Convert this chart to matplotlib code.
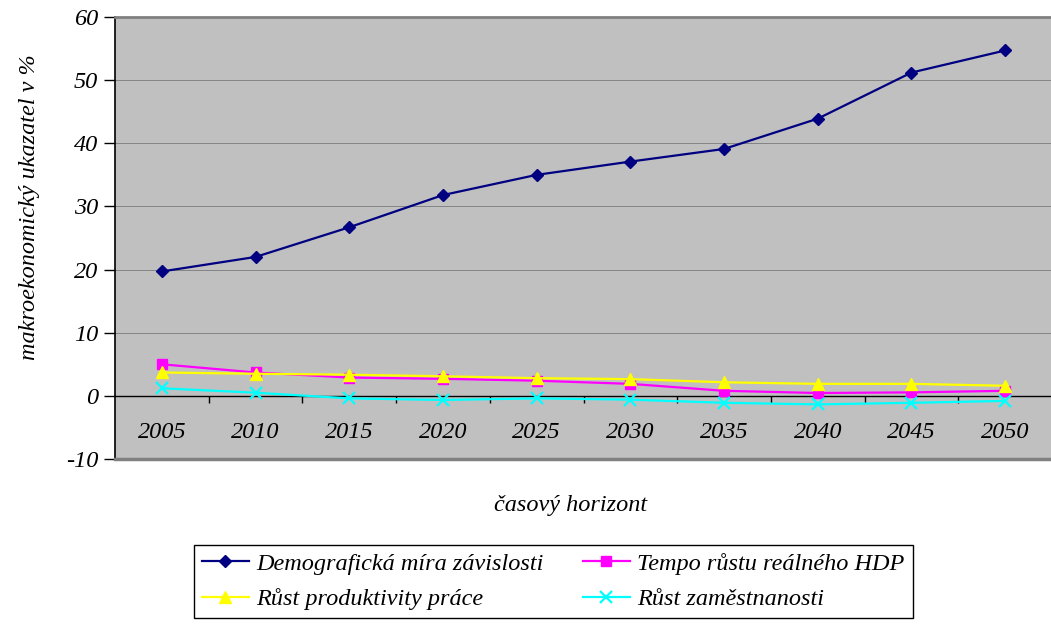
import matplotlib
matplotlib.use("Agg")
import matplotlib.pyplot as plt
from matplotlib.ticker import FixedLocator

years = ["2005", "2010", "2015", "2020", "2025", "2030", "2035", "2040", "2045", "2050"]
demo = [19.7, 22.0, 26.7, 31.8, 35.0, 37.1, 39.1, 43.9, 51.2, 54.7]
hdp = [5.0, 3.7, 2.9, 2.7, 2.4, 1.9, 0.8, 0.45, 0.55, 0.8]
prod = [3.7, 3.5, 3.35, 3.1, 2.8, 2.65, 2.15, 1.9, 1.9, 1.6]
zam = [1.2, 0.5, -0.4, -0.65, -0.4, -0.6, -1.1, -1.35, -1.1, -0.8]
yticks = [-10, 0, 10, 20, 30, 40, 50, 60]

labels = ["Demografická míra závislosti", "Tempo růstu reálného HDP",
          "Růst produktivity práce", "Růst zaměstnanosti"]

plt.rcParams['font.family'] = ['Liberation Serif', 'DejaVu Serif']
plt.rcParams['font.style'] = 'italic'
FS = 17.5

W, H = 1051, 626
fig = plt.figure(figsize=(W / 100, H / 100), dpi=100)
ax = fig.add_axes([115 / W, 1 - 459 / H, (1052 - 115) / W, (459 - 17) / H])
ax.set_facecolor('#C0C0C0')

x = list(range(len(years)))
l1, = ax.plot(x, demo, color='#000080', lw=1.6, marker='D', ms=6.5, zorder=5)
l2, = ax.plot(x, hdp, color='#FF00FF', lw=1.6, marker='s', ms=7, zorder=4)
l3, = ax.plot(x, prod, color='#FFFF00', lw=1.6, marker='^', ms=8.5, zorder=4)
l4, = ax.plot(x, zam, color='#00FFFF', lw=1.6, marker='x', ms=8, mew=1.6, zorder=4)

ax.set_xlim(-0.5, len(years) - 0.5)
ax.set_ylim(-10, 60)
ax.set_yticks(yticks)
ax.set_yticklabels([str(v) for v in yticks], fontsize=FS, style='italic')
ax.yaxis.grid(True, color='#7a7a7a', lw=0.6)
ax.set_axisbelow(True)

# category axis at zero
ax.spines['bottom'].set_position(('data', 0))
ax.spines['bottom'].set_color('black')
ax.spines['bottom'].set_linewidth(1.0)
ax.set_xticks(x)
ax.set_xticklabels(years, fontsize=FS, style='italic')
ax.tick_params(axis='x', which='major', length=0, pad=19)
ax.xaxis.set_minor_locator(FixedLocator([i + 0.5 for i in range(len(years) - 1)]))
ax.tick_params(axis='x', which='minor', length=5, direction='out', width=1)

ax.spines['left'].set_color('black')
ax.spines['left'].set_linewidth(1.2)
ax.tick_params(axis='y', length=8, width=1, pad=4)
ax.spines['top'].set_color('#808080')
ax.spines['top'].set_linewidth(2)
ax.spines['right'].set_visible(False)
ax.axhline(-10, color='#808080', lw=2.5, clip_on=False, zorder=6)

fig.text(30 / W, 1 - 207 / H, "makroekonomický ukazatel v %", rotation=90,
         ha='center', va='center', fontsize=FS, style='italic')
fig.text(571 / W, 1 - 506 / H, "časový horizont", ha='center', va='center',
         fontsize=FS, style='italic')

# row-wise order: (Demo, HDP) / (Prod, Zam)
leg = fig.legend([l1, l3, l2, l4], [labels[0], labels[2], labels[1], labels[3]],
                 ncol=2, loc='upper left',
                 bbox_to_anchor=(194 / W, 1 - 545 / H),
                 frameon=True, fancybox=False, edgecolor='black', framealpha=1,
                 prop={'family': 'Liberation Serif', 'style': 'italic', 'size': FS},
                 handlelength=1.95, handletextpad=0.3, borderpad=0.32,
                 labelspacing=0.55, columnspacing=1.6, borderaxespad=0)
leg.get_frame().set_linewidth(1.0)

fig.savefig("out.png", dpi=100)
